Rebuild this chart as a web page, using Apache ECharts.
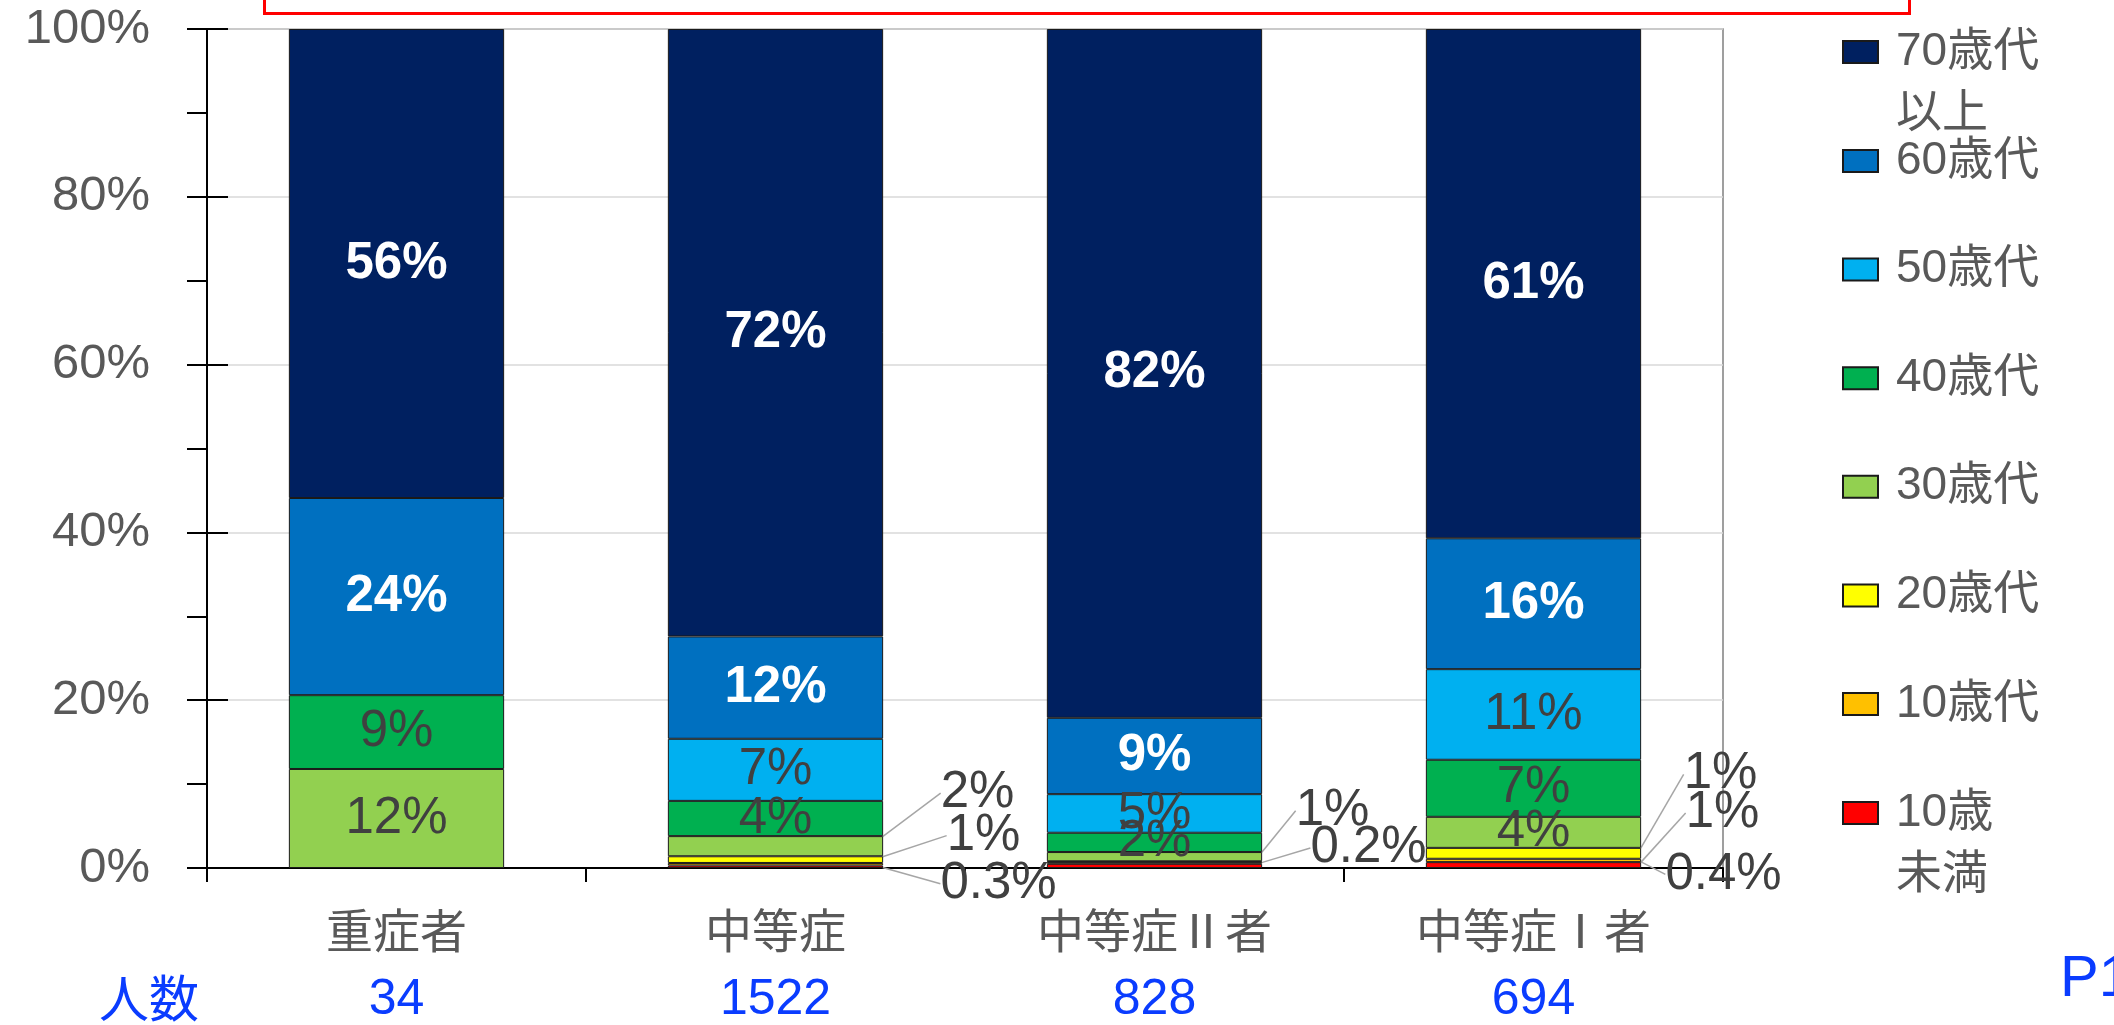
<!DOCTYPE html>
<html>
<head>
<meta charset="utf-8">
<script src="https://cdn.jsdelivr.net/npm/echarts@6/dist/echarts.min.js"></script>
<style>
html,body{margin:0;padding:0;background:#fff;}
#main{width:2114px;height:1025px;}
</style>
</head>
<body>
<div id="main"></div>
<script>
// ---- data ----
const categories = ['重症者', '中等症', '中等症Ⅱ者', '中等症Ⅰ者'];
const counts = [34, 1522, 828, 694];
const seriesNames = ['10歳未満', '10歳代', '20歳代', '30歳代', '40歳代', '50歳代', '60歳代', '70歳代以上'];
const under10      = [0,    0.3,  0.5,  0.7];
const teens        = [0,    0.3,  0.2,  0.4];
const twenties     = [0,    0.8,  0.1,  1.3];
const thirties     = [11.8, 2.4,  1.1,  3.7];
const forties      = [8.8,  4.2,  2.3,  6.8];
const fifties      = [0,    7.4,  4.6,  10.8];
const sixties      = [23.5, 12.2, 9.1,  15.6];
const seventiesPlus= [55.9, 72.4, 82.1, 60.7];
const yTickValues  = [0, 20, 40, 60, 80, 100];

const seriesValues = [under10, teens, twenties, thirties, forties, fifties, sixties, seventiesPlus];
const colors = ['#ff0000', '#ffc000', '#ffff00', '#92d050', '#00b050', '#00b0f0', '#0070c0', '#002060'];
const labelColors = ['#404040', '#404040', '#404040', '#404040', '#404040', '#404040', '#ffffff', '#ffffff'];

// callout label offsets (seriesIndex-dataIndex) -> [dx, dy] from default position
const callouts = {
  '3-1': [202, -53],
  '2-1': [208, -24],
  '0-1': [223, 17],
  '3-2': [178, -46],
  '1-2': [214, -15],
  '2-3': [187, -79],
  '0-3': [189, -52],
  '1-3': [190, 14]
};

function fmt(v) {
  if (v < 0.5) return v.toFixed(1) + '%';
  return Math.round(v) + '%';
}

const chart = echarts.init(document.getElementById('main'));

const series = seriesValues.map((arr, si) => ({
  name: seriesNames[si],
  type: 'bar',
  stack: 'total',
  barWidth: '56.8%',
  data: arr.map(v => (v === 0 ? null : v)),
  itemStyle: { color: colors[si], borderColor: '#1a1a1a', borderWidth: 1 },
  label: {
    show: true,
    position: 'inside',
    color: labelColors[si],
    fontSize: 51,
    fontWeight: si >= 6 ? 'bold' : 'normal',
    fontFamily: 'Liberation Sans, Arial, sans-serif',
    formatter: p => {
      const key = si + '-' + p.dataIndex;
      if (p.value == null) return '';
      if (callouts[key] || p.value >= 2) return fmt(p.value);
      return '';
    }
  },
  labelLine: { show: true, lineStyle: { color: '#a6a6a6', width: 1.5 } },
  labelLayout: params => {
    const key = params.seriesIndex + '-' + params.dataIndex;
    const c = callouts[key];
    if (c) return { dx: c[0], dy: c[1] };
    return {};
  },
  emphasis: { disabled: true }
}));

const legendText = {
  fontSize: 46,
  color: '#595959',
  fontFamily: 'Liberation Sans, Noto Sans CJK JP, sans-serif',
  lineHeight: 62,
  padding: [0, 0, 0, 13]
};
function legendFmt(name) {
  if (name === '70歳代以上') return '\n70歳代\n以上';
  if (name === '10歳未満') return '\n10歳\n未満';
  return name;
}
const legendBase = {
  orient: 'vertical',
  left: 1842,
  padding: 0,
  itemWidth: 35,
  itemHeight: 22,
  itemGap: 46.6,
  icon: 'rect',
  selectedMode: false,
  formatter: legendFmt,
  textStyle: legendText
};

chart.setOption({
  animation: false,
  backgroundColor: '#ffffff',
  grid: {
    left: 207, right: 391, top: 29, bottom: 157,
    show: true, borderColor: '#808080', borderWidth: 1.5, backgroundColor: 'transparent'
  },
  legend: [
    Object.assign({}, legendBase, { top: -41, data: [seriesNames[7]] }),
    Object.assign({}, legendBase, { top: 130, data: seriesNames.slice(1, 7).reverse() }),
    Object.assign({}, legendBase, { top: 720, data: [seriesNames[0]] })
  ],
  xAxis: {
    type: 'category',
    data: categories,
    axisLine: { lineStyle: { color: '#000', width: 2 } },
    axisTick: { show: true, length: 14, lineStyle: { color: '#000', width: 2 } },
    axisLabel: {
      margin: 27,
      formatter: (v, i) => '{c|' + v + '}\n{n|' + counts[i] + '}',
      rich: {
        c: { fontSize: 47, color: '#595959', fontFamily: 'Noto Sans CJK JP, sans-serif', lineHeight: 70 },
        n: { fontSize: 50, color: '#0a3cff', fontFamily: 'Liberation Sans Narrow, Liberation Sans, sans-serif', lineHeight: 70 }
      }
    },
    splitLine: { show: false }
  },
  yAxis: [
    {
      type: 'value', min: 0, max: 100, interval: 10,
      axisLine: { show: true, lineStyle: { color: '#000', width: 2 } },
      axisTick: { show: true, length: 20, lineStyle: { color: '#000', width: 2 } },
      axisLabel: {
        margin: 57,
        fontSize: 49,
        color: '#595959',
        fontFamily: 'Liberation Sans, Arial, sans-serif',
        formatter: v => (yTickValues.indexOf(v) >= 0 ? v + '%' : '')
      },
      splitLine: { show: false }
    },
    {
      type: 'value', min: 0, max: 100, interval: 20, position: 'left',
      axisLine: { show: false },
      axisTick: { show: true, inside: true, length: 21, lineStyle: { color: '#000', width: 2 } },
      axisLabel: { show: false },
      splitLine: { show: true, lineStyle: { color: '#d9d9d9', width: 1.5 } }
    }
  ],
  series: series,
  graphic: [
    {
      type: 'rect', left: 262, top: -10,
      shape: { width: 1645, height: 21 },
      style: { fill: 'none', stroke: '#ff0000', lineWidth: 3 }
    },
    {
      type: 'text', left: 99, top: 973,
      style: { text: '人数', fontSize: 50, fill: '#0a3cff', fontFamily: 'Noto Sans CJK JP, sans-serif' }
    },
    {
      type: 'text', left: 2060, top: 951,
      style: { text: 'P1', fontSize: 58, fill: '#0a3cff', fontFamily: 'Liberation Sans, sans-serif' }
    }
  ]
});
</script>
</body>
</html>
